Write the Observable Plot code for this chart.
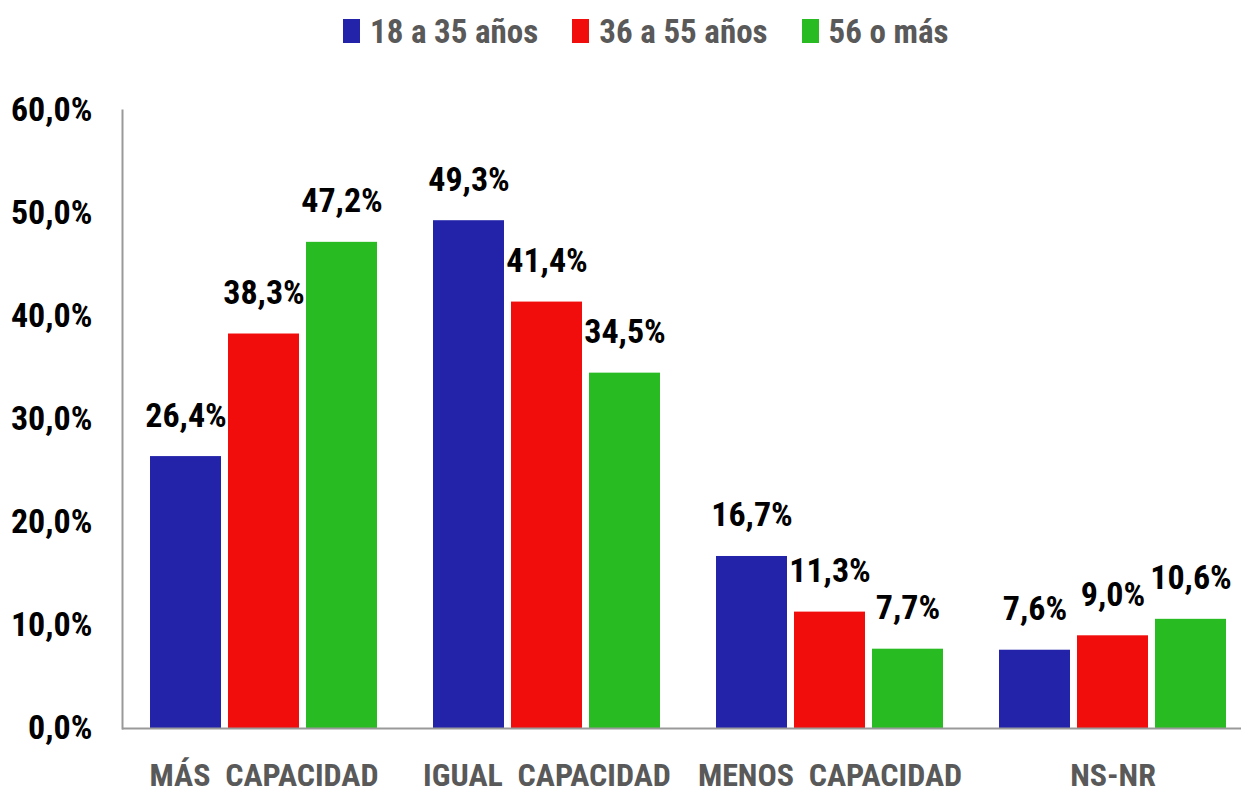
<!DOCTYPE html>
<html>
<head>
<meta charset="utf-8">
<script src="https://cdn.jsdelivr.net/npm/d3@7"></script>
<script src="https://cdn.jsdelivr.net/npm/@observablehq/plot@0.6"></script>
<style>
  html, body { margin: 0; padding: 0; background: #fff; overflow: hidden; }
  body { font-family: "Roboto Condensed", "Open Sans", sans-serif; font-weight: bold; width: 1241px; }
  #legend { display: flex; align-items: center; height: 62px; padding-left: 343px; color: #595959; font-size: 33px; }
  #legend .item { display: flex; align-items: center; margin-right: 34px; }
  #legend .sw { width: 17px; height: 24px; margin-right: 10px; }
  [aria-label="y-axis tick label"] { font-size: 34px; fill: #000; }
  [aria-label="fx-axis tick label"] { font-size: 32px; fill: #595959; }
  [aria-label="y-axis line"], [aria-label="y-axis line"] *, [aria-label="frame"], [aria-label="frame"] * { stroke: #999 !important; stroke-width: 2px; }
</style>
</head>
<body>
<div id="legend"></div>
<div id="chart"></div>
<script>
const categories = ["MÁS CAPACIDAD", "IGUAL CAPACIDAD", "MENOS CAPACIDAD", "NS-NR"];
const series = ["18 a 35 años", "36 a 55 años", "56 o más"];
const values18a35 = [26.4, 49.3, 16.7, 7.6];
const values36a55 = [38.3, 41.4, 11.3, 9.0];
const values56mas = [47.2, 34.5, 7.7, 10.6];
const colors = ["#2323AA", "#F20D0D", "#29BB22"];
const yTicks = [0, 10, 20, 30, 40, 50, 60];

const seriesValues = [values18a35, values36a55, values56mas];
const data = [];
categories.forEach((c, i) => {
  series.forEach((s, j) => data.push({cat: c, serie: s, value: seriesValues[j][i]}));
});

const fmt = v => v.toFixed(1).replace(".", ",") + "%";

const legend = document.getElementById("legend");
series.forEach((s, j) => {
  const it = document.createElement("div");
  it.className = "item";
  it.innerHTML = `<span class="sw" style="background:${colors[j]}"></span><span>${s}</span>`;
  legend.appendChild(it);
});

const chart = Plot.plot({
  width: 1241,
  height: 738,
  marginLeft: 122,
  marginRight: -13,
  marginTop: 48,
  marginBottom: 72,
  style: "font-family: 'Roboto Condensed', 'Open Sans', sans-serif; font-weight: bold; background: #fff; overflow: hidden;",
  fx: {domain: categories, padding: 0, label: null, tickSize: 0, tickPadding: 35, tickFormat: d => d.replace(" ", "\u00a0\u00a0")},
  x: {domain: series, paddingInner: 0.089, paddingOuter: 0.336, axis: null},
  y: {domain: [0, 60], ticks: yTicks, tickFormat: fmt, tickSize: 0, tickPadding: 30, label: null, line: true},
  color: {domain: series, range: colors},
  marks: [
    Plot.barY(data, {fx: "cat", x: "serie", y: "value", fill: "serie"}),
    Plot.ruleY([0], {stroke: "#999", strokeWidth: 2}),
    Plot.text(data, {fx: "cat", x: "serie", y: "value", text: d => fmt(d.value), lineAnchor: "bottom", dy: -30, fontSize: 34, fill: "#000"})
  ]
});
document.getElementById("chart").appendChild(chart);
</script>
</body>
</html>
